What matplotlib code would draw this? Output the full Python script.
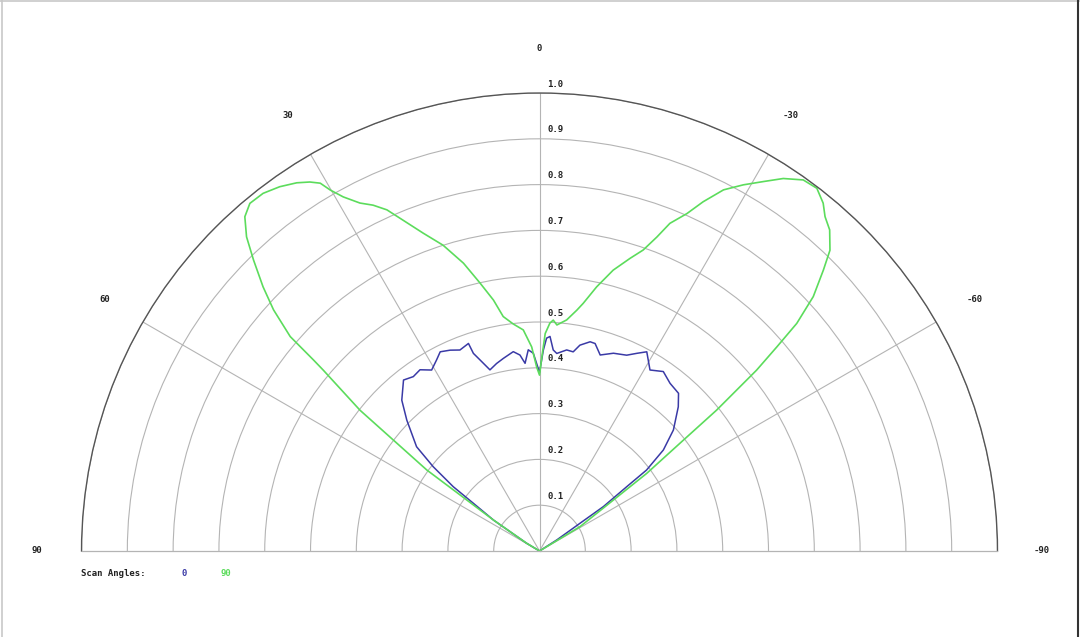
import matplotlib
matplotlib.use("Agg")
import matplotlib.pyplot as plt
import numpy as np
from matplotlib.lines import Line2D
from matplotlib.transforms import offset_copy

# --- data (angle in degrees, normalised amplitude) ---
# scan angle 0 (blue)
scan0_theta = [-62, -57.4, -55.6, -55.2, -53.6, -52.9, -50.8, -47.9, -43.9, -41.4,
               -37.9, -34.6, -31.4, -28.3, -26.2, -24.0, -20.5, -17.2, -15.0, -13.6,
               -11.1, -9.6, -7.7, -5.0, -3.9, -2.8, -1.9, -1.1, 0.0, 1.8,
               3.2, 4.4, 5.7, 7.5, 10.6, 12.9, 15.3, 17.3, 18.5, 18.9,
               21.6, 24.0, 26.5, 28.3, 30.8, 33.4, 35.9, 38.5, 42.4, 45.4,
               49.7, 51.6, 53.3, 54.2, 56.1, 59.0, 62]
scan0_r = [0.0, 0.045, 0.107, 0.170, 0.237, 0.293, 0.349, 0.394, 0.437, 0.459,
           0.464, 0.476, 0.463, 0.494, 0.481, 0.468, 0.461, 0.448, 0.469, 0.470,
           0.458, 0.441, 0.443, 0.433, 0.440, 0.469, 0.465, 0.439, 0.390, 0.432,
           0.440, 0.411, 0.430, 0.439, 0.428, 0.420, 0.410, 0.437, 0.455, 0.479,
           0.472, 0.480, 0.486, 0.474, 0.460, 0.474, 0.470, 0.477, 0.446, 0.407,
           0.352, 0.296, 0.235, 0.178, 0.121, 0.033, 0.0]

# scan angle 90 (green)
scan90_theta = [-62, -59.0, -55.4, -54.1, -52.5, -51.5, -50.2, -49.3, -48.5, -47.1,
                -45.3, -44.0, -42.1, -40.5, -39.2, -37.4, -35.4, -33.2, -31.2, -29.1,
                -27.0, -25.1, -23.6, -21.7, -20.5, -19.0, -17.2, -14.7, -12.2, -10.0,
                -8.8, -6.7, -4.4, -3.4, -2.6, -1.5, -0.7, 0.0, 0.9, 2.2,
                4.2, 6.6, 8.8, 10.4, 12.5, 14.8, 17.5, 20.1, 22.4, 24.1,
                25.7, 27.3, 29.0, 30.1, 30.8, 31.9, 33.4, 35.5, 37.7, 39.8,
                41.4, 43.0, 44.5, 46.3, 47.8, 49.3, 49.8, 50.1, 51.9, 52.8,
                54.3, 54.8, 56.1, 59.0, 62]
scan90_r = [0.0, 0.103, 0.196, 0.289, 0.387, 0.494, 0.617, 0.684, 0.750, 0.816,
            0.872, 0.913, 0.945, 0.960, 0.980, 0.997, 0.994, 0.972, 0.943, 0.915,
            0.885, 0.842, 0.804, 0.770, 0.732, 0.695, 0.669, 0.634, 0.590, 0.549,
            0.532, 0.508, 0.495, 0.505, 0.498, 0.475, 0.424, 0.384, 0.402, 0.446,
            0.484, 0.499, 0.518, 0.557, 0.599, 0.650, 0.700, 0.739, 0.781, 0.816,
            0.838, 0.855, 0.884, 0.911, 0.935, 0.949, 0.963, 0.977, 0.987, 0.988,
            0.973, 0.938, 0.891, 0.835, 0.784, 0.718, 0.646, 0.615, 0.498, 0.401,
            0.303, 0.212, 0.121, 0.033, 0.0]

angle_ticks = [90, 60, 30, 0, -30, -60, -90]
radial_ticks = [0.1, 0.2, 0.3, 0.4, 0.5, 0.6, 0.7, 0.8, 0.9, 1.0]
series_names = ["0", "90"]
series_colors = ["#3a3aa6", "#5cdc5c"]

mono = "DejaVu Sans Mono"
grid_color = "#b4b4b4"

fig = plt.figure(figsize=(10.8, 6.37), dpi=100)
# the half-disc sits in the middle of a square box, so the box is 2R x 2R
# with the circle centre 1/4 of the way up from its middle
ax = fig.add_axes([0.0755, -0.2245, 0.8481, 1.438], projection="polar")
ax.set_theta_zero_location("N")
ax.set_thetamin(-90)
ax.set_thetamax(90)
ax.set_rlim(0, 1.0)

ax.set_xticks(np.radians([-60, -30, 0, 30, 60]))
ax.set_xticklabels([])
ax.set_yticks(radial_ticks)
ax.set_yticklabels([])
ax.grid(True, color=grid_color, linewidth=0.8)
ax.tick_params(length=0)

ax.spines["polar"].set_color("#555555")
ax.spines["polar"].set_linewidth(1.0)
for side in ("start", "end"):
    ax.spines[side].set_color(grid_color)
    ax.spines[side].set_linewidth(0.9)

ax.plot(np.radians(scan0_theta), scan0_r, color=series_colors[0], lw=1.1)
ax.plot(np.radians(scan90_theta), scan90_r, color=series_colors[1], lw=1.2)

# radial labels just right of the 0 spoke, above each ring
rl_trans = offset_copy(ax.transData, fig=fig, x=8, y=9, units="dots")
for r in radial_ticks:
    ax.text(0, r, f"{r:.1f}", transform=rl_trans, fontsize=6.5, family=mono,
            fontweight="bold", color="#222222", ha="left", va="center")

# angle labels outside the arc
for a in angle_ticks:
    ax.text(np.radians(a), 1.097, str(a), fontsize=6.5, family=mono,
            fontweight="bold", color="#222222", ha="center", va="center",
            clip_on=False)

# legend line under the plot
fig.text(81 / 1080, 1 - 573 / 637, "Scan Angles:", fontsize=6.5, family=mono,
         fontweight="bold", color="#222222", ha="left", va="center")
fig.text(184 / 1080, 1 - 573 / 637, series_names[0], fontsize=6.5, family=mono,
         fontweight="bold", color=series_colors[0], ha="center", va="center")
fig.text(226 / 1080, 1 - 573 / 637, series_names[1], fontsize=6.5, family=mono,
         fontweight="bold", color=series_colors[1], ha="center", va="center")

# thin frame round the picture (light top/left, dark right edge)
fig.add_artist(Line2D([0, 1], [0.9985, 0.9985], transform=fig.transFigure,
                      color="#c8c8c8", lw=1.2))
fig.add_artist(Line2D([0.0015, 0.0015], [0, 1], transform=fig.transFigure,
                      color="#c8c8c8", lw=1.2))
fig.add_artist(Line2D([0.998, 0.998], [0, 1], transform=fig.transFigure,
                      color="#333333", lw=1.5))

fig.savefig("out.png", dpi=100, facecolor="white")
